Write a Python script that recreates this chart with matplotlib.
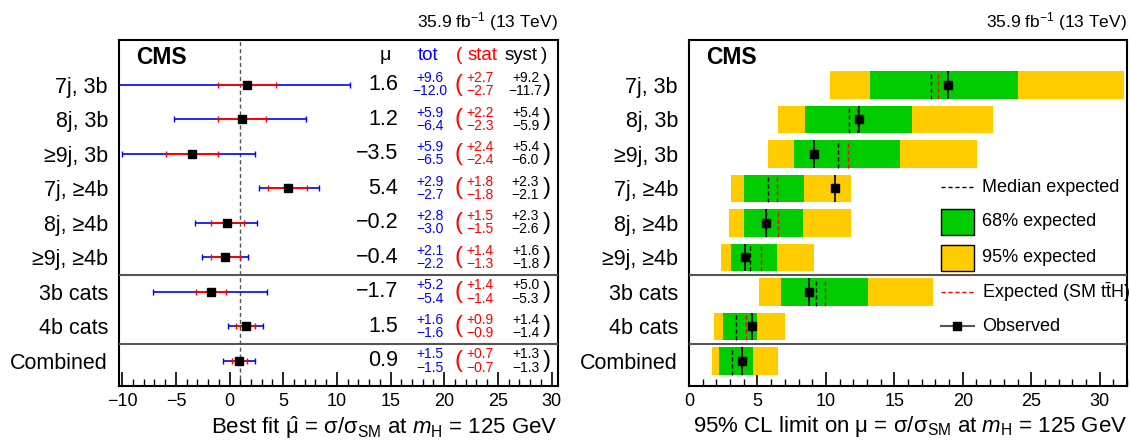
import numpy as np
import matplotlib
matplotlib.use("Agg")
import matplotlib.pyplot as plt
from matplotlib.patches import Rectangle
from matplotlib.ticker import MultipleLocator

plt.rcParams["font.family"] = ["Liberation Sans", "DejaVu Sans"]
plt.rcParams["mathtext.fontset"] = "custom"
plt.rcParams["mathtext.rm"] = "Liberation Sans"
plt.rcParams["mathtext.it"] = "Liberation Sans:italic"
plt.rcParams["mathtext.bf"] = "Liberation Sans:bold"

labels = ["7j, 3b", "8j, 3b", "≥9j, 3b", "7j, ≥4b", "8j, ≥4b", "≥9j, ≥4b",
          "3b cats", "4b cats", "Combined"]

# best fit signal strength
mu = [1.6, 1.2, -3.5, 5.4, -0.2, -0.4, -1.7, 1.5, 0.9]
tot_up = [9.6, 5.9, 5.9, 2.9, 2.8, 2.1, 5.2, 1.6, 1.5]
tot_dn = [12.0, 6.4, 6.5, 2.7, 3.0, 2.2, 5.4, 1.6, 1.5]
stat_up = [2.7, 2.2, 2.4, 1.8, 1.5, 1.4, 1.4, 0.9, 0.7]
stat_dn = [2.7, 2.3, 2.4, 1.8, 1.5, 1.3, 1.4, 0.9, 0.7]
syst_up = [9.2, 5.4, 5.4, 2.3, 2.3, 1.6, 5.0, 1.4, 1.3]
syst_dn = [11.7, 5.9, 6.0, 2.1, 2.6, 1.8, 5.3, 1.4, 1.3]

# 95% CL limits
obs = [18.9, 12.4, 9.1, 10.7, 5.6, 4.1, 8.8, 4.6, 3.9]
exp_med = [17.7, 11.7, 10.9, 5.8, 5.65, 4.45, 9.3, 3.45, 3.15]
exp_sm = [18.2, 12.3, 11.6, 6.45, 6.5, 5.25, 9.9, 4.2, 3.9]
lo68 = [13.2, 8.5, 7.7, 4.05, 4.0, 3.1, 6.75, 2.45, 2.2]
hi68 = [24.0, 16.3, 15.4, 8.4, 8.35, 6.45, 13.05, 5.0, 4.65]
lo95 = [10.3, 6.5, 5.8, 3.05, 2.95, 2.35, 5.15, 1.8, 1.7]
hi95 = [31.8, 22.2, 21.05, 11.8, 11.85, 9.1, 17.8, 7.0, 6.5]

W, H = 1130, 443
fig = plt.figure(figsize=(W / 100, H / 100), dpi=100)
ax1 = fig.add_axes([119 / W, 57 / H, 439 / W, 346 / H])
ax2 = fig.add_axes([689 / W, 57 / H, 438 / W, 346 / H])

n = len(labels)
y = np.arange(n)[::-1] + 1.0

green = "#00cc00"
yellow = "#ffcc00"


def style(ax, xlim, lab):
    ax.set_xlim(*xlim)
    ax.set_ylim(0.275, 10.3)
    ax.set_yticks(y)
    ax.set_yticklabels(labels, fontsize=15.5)
    ax.tick_params(axis="y", length=0, pad=8)
    ax.xaxis.set_major_locator(MultipleLocator(5))
    ax.xaxis.set_minor_locator(MultipleLocator(1))
    ax.tick_params(axis="x", which="major", direction="in", length=10, width=1.2,
                   labelsize=13, pad=5)
    ax.tick_params(axis="x", which="minor", direction="in", length=5, width=1.0)
    for s in ax.spines.values():
        s.set_linewidth(1.5)
    for yy in (3.5, 1.5):
        ax.axhline(yy, color="#555555", lw=1.5, zorder=5)
    ax.text(0.04, 9.8, "CMS", transform=ax.get_yaxis_transform(), fontsize=16.5,
            fontweight="bold", va="center", ha="left")
    ax.text(1.0, 1.02, r"35.9 fb$^{-1}$ (13 TeV)", transform=ax.transAxes,
            ha="right", va="bottom", fontsize=12.5)
    ax.set_xlabel(lab, fontsize=16, loc="right", labelpad=3)


# left panel
style(ax1, (-10.3, 30.6),
      r"Best fit $\hat{\mathrm{\mu}}$ = σ/σ$_{\rm SM}$ at $m_{\rm H}$ = 125 GeV")
ax1.axvline(1.0, color="#555555", ls=(0, (3, 2)), lw=1.0, zorder=1)
ax1.errorbar(mu, y, xerr=[tot_dn, tot_up], fmt="none", ecolor="blue",
             elinewidth=1.2, capsize=2.5, capthick=1.0, zorder=3)
ax1.errorbar(mu, y, xerr=[stat_dn, stat_up], fmt="none", ecolor="red",
             elinewidth=1.4, capsize=2.5, capthick=1.0, zorder=4)
ax1.plot(mu, y, "s", color="black", ms=6, zorder=6)

tr = ax1.get_yaxis_transform()
hy = 9.85
ax1.text(0.606, hy, "μ", transform=tr, ha="center", va="center", fontsize=14)
ax1.text(0.704, hy, "tot", transform=tr, ha="center", va="center", fontsize=13.5, color="blue")
ax1.text(0.774, hy, "(", transform=tr, ha="center", va="center", fontsize=13.5, color="red")
ax1.text(0.827, hy, "stat", transform=tr, ha="center", va="center", fontsize=13.5, color="red")
ax1.text(0.915, hy, "syst", transform=tr, ha="center", va="center", fontsize=13.5)
ax1.text(0.968, hy, ")", transform=tr, ha="center", va="center", fontsize=13.5)

for i in range(n):
    yy = y[i]
    ax1.text(0.636, yy, f"{mu[i]:.1f}".replace("-", "\u2212"), transform=tr,
             ha="right", va="center", fontsize=15.5)
    for xf, up, dn, c in ((0.708, tot_up, tot_dn, "blue"),
                          (0.822, stat_up, stat_dn, "red"),
                          (0.926, syst_up, syst_dn, "black")):
        ax1.text(xf, yy + 0.19, f"+{up[i]:.1f}", transform=tr, ha="center",
                 va="center", fontsize=10, color=c)
        ax1.text(xf, yy - 0.19, f"\u2212{dn[i]:.1f}", transform=tr, ha="center",
                 va="center", fontsize=10, color=c)
    ax1.text(0.774, yy, "(", transform=tr, ha="center", va="center",
             fontsize=17, color="red")
    ax1.text(0.975, yy, ")", transform=tr, ha="center", va="center", fontsize=17)

# right panel
style(ax2, (0, 32),
      r"95% CL limit on μ = σ/σ$_{\rm SM}$ at $m_{\rm H}$ = 125 GeV")
hb = 0.4
ax2.barh(y, np.subtract(hi95, lo95), left=lo95, height=2 * hb, color=yellow, zorder=2)
ax2.barh(y, np.subtract(hi68, lo68), left=lo68, height=2 * hb, color=green, zorder=2)
ax2.vlines(exp_med, y - hb, y + hb, colors="black", linestyles=(0, (3, 2)), lw=1.0, zorder=3)
ax2.vlines(exp_sm, y - hb, y + hb, colors="red", linestyles=(0, (3, 2)), lw=1.0, zorder=3)
ax2.vlines(obs, y - hb, y + hb, colors="black", lw=1.2, zorder=4)
ax2.plot(obs, y, "s", color="black", ms=6, zorder=6)

# legend
x0, x1, xt = 18.4, 20.8, 21.4
fs = 13
ax2.plot([x0, x1], [6.04, 6.04], color="black", ls=(0, (3, 2)), lw=1.0)
ax2.text(xt, 6.04, "Median expected", fontsize=fs, va="center")
ax2.add_patch(Rectangle((x0, 5.03 - 0.38), x1 - x0, 0.76, facecolor=green,
                        edgecolor="black", lw=1.0, zorder=5))
ax2.text(xt, 5.03, "68% expected", fontsize=fs, va="center")
ax2.add_patch(Rectangle((x0, 3.99 - 0.38), x1 - x0, 0.76, facecolor=yellow,
                        edgecolor="black", lw=1.0, zorder=5))
ax2.text(xt, 3.99, "95% expected", fontsize=fs, va="center")
ax2.plot([x0, x1], [3.0, 3.0], color="red", ls=(0, (3, 2)), lw=1.0)
ax2.text(xt, 3.0, r"Expected (SM $\rm t\bar{t}H$)", fontsize=fs, va="center")
ax2.plot([x0, x1], [2.01, 2.01], color="#555555", lw=1.5)
ax2.plot([(x0 + x1) / 2], [2.01], "s", color="black", ms=6)
ax2.text(xt, 2.01, "Observed", fontsize=fs, va="center")

fig.savefig("out.png", dpi=100)
